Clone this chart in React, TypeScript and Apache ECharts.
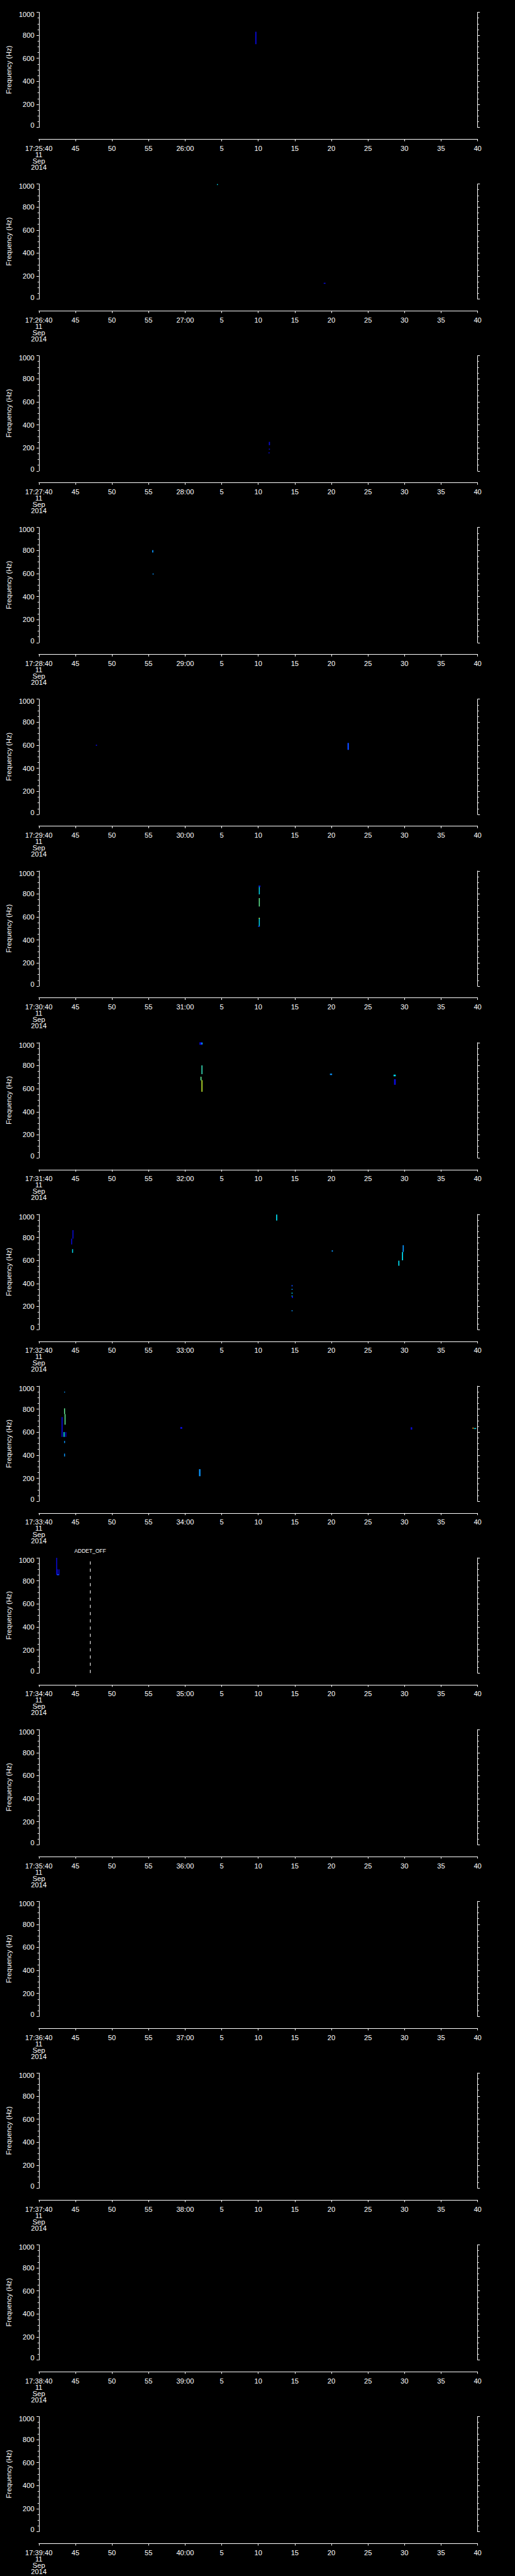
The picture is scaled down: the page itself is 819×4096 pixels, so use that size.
import React, { useEffect, useRef } from "react";
import * as echarts from "echarts";

// ---- data ----
const PANEL_START_SECONDS = 17 * 3600 + 25 * 60 + 40; // 17:25:40
const PANEL_COUNT = 15;
const DATE_LINES = ["11", "Sep", "2014"];
const FREQ_TICKS = [0, 200, 400, 600, 800, 1000];
const Y_TITLE = "Frequency (Hz)";

// colour keys of the spectrogram palette
const COLORS: Record<string, string> = {
  blue: "#0a0adc",
  royal: "#0a46ff",
  dodger: "#0a96ff",
  cyan: "#00dcf0",
  aqua: "#3cf0c8",
  green: "#64f096",
  yellow: "#d2ff32",
  orange: "#ffa01e",
};

// events: [tStart(s after panel start), tEnd, fLow(Hz), fHigh(Hz), colour]
const panel01 = [[29.6, 29.75, 723, 830, "blue"]];
const panel02 = [
  [24.35, 24.45, 994, 999, "cyan"],
  [38.95, 39.2, 136, 142, "blue"],
];
const panel03 = [
  [31.45, 31.6, 223, 252, "blue"],
  [31.45, 31.6, 186, 193, "blue"],
  [31.4, 31.55, 153, 161, "blue"],
];
const panel04 = [
  [15.5, 15.65, 782, 803, "dodger"],
  [15.55, 15.7, 594, 600, "dodger"],
];
const panel05 = [
  [7.8, 7.95, 595, 605, "blue"],
  [42.2, 42.4, 560, 620, "royal"],
];
const panel06 = [
  [30.08, 30.2, 796, 873, "cyan"],
  [30.08, 30.3, 860, 873, "blue"],
  [30.08, 30.2, 691, 764, "green"],
  [30.08, 30.2, 517, 592, "cyan"],
  [30.08, 30.16, 585, 592, "yellow"],
  [29.98, 30.2, 517, 524, "royal"],
];
const panel07 = [
  [21.96, 22.37, 981, 1003, "blue"],
  [22.25, 22.37, 985, 1000, "cyan"],
  [22.24, 22.36, 726, 803, "aqua"],
  [22.1, 22.24, 672, 704, "green"],
  [22.24, 22.36, 573, 675, "yellow"],
  [39.8, 40.1, 719, 731, "dodger"],
  [48.5, 48.8, 708, 722, "cyan"],
  [48.57, 48.8, 634, 683, "blue"],
];
const panel08 = [
  [4.6, 4.72, 790, 863, "blue"],
  [4.42, 4.55, 739, 790, "blue"],
  [4.55, 4.68, 666, 698, "cyan"],
  [32.45, 32.6, 946, 998, "cyan"],
  [34.55, 34.7, 375, 386, "royal"],
  [34.55, 34.7, 345, 353, "dodger"],
  [34.55, 34.7, 313, 320, "cyan"],
  [34.55, 34.7, 288, 295, "cyan"],
  [34.6, 34.75, 274, 288, "blue"],
  [34.55, 34.7, 160, 167, "dodger"],
  [40.05, 40.2, 676, 688, "dodger"],
  [49.15, 49.3, 554, 598, "cyan"],
  [49.65, 49.8, 601, 674, "cyan"],
  [49.75, 49.9, 674, 732, "dodger"],
];
const panel09 = [
  [3.45, 3.55, 945, 952, "dodger"],
  [3.45, 3.55, 757, 807, "green"],
  [3.52, 3.62, 665, 757, "green"],
  [3.1, 3.25, 559, 731, "blue"],
  [3.37, 3.52, 559, 601, "cyan"],
  [3.62, 3.75, 559, 601, "blue"],
  [3.45, 3.57, 506, 524, "dodger"],
  [3.45, 3.57, 389, 414, "dodger"],
  [19.35, 19.6, 629, 645, "blue"],
  [21.9, 22.1, 218, 279, "dodger"],
  [50.85, 51.05, 622, 643, "blue"],
  [59.3, 59.45, 630, 640, "orange"],
  [59.5, 59.8, 628, 636, "cyan"],
];
const panel10 = [
  [2.38, 2.48, 853, 1000, "blue"],
  [2.45, 2.55, 850, 900, "blue"],
  [2.68, 2.78, 850, 900, "blue"],
  [2.45, 2.78, 850, 858, "blue"],
  [2.55, 2.65, 852, 858, "dodger"],
];
const panel11: any[] = [];
const panel12: any[] = [];
const panel13: any[] = [];
const panel14: any[] = [];
const panel15: any[] = [];
const PANEL_EVENTS = [
  panel01, panel02, panel03, panel04, panel05, panel06, panel07, panel08,
  panel09, panel10, panel11, panel12, panel13, panel14, panel15,
];

// vertical event markers: [panel index (0-based), seconds after panel start, label]
const MARKERS: [number, number, string][] = [[9, 7.02, "ADDET_OFF"]];

// ---- layout (0.8 of the reference) ----
const W = 819;
const H = 4096;
const PH = H / PANEL_COUNT;
const GRID_LEFT = 60.2;
const GRID_WIDTH = 699.4;
const GRID_TOP = 19.45;
const GRID_HEIGHT = 183.2;
const FONT = "'Liberation Sans', Arial, sans-serif";
const FS = 11.2;

const pad2 = (n: number) => (n < 10 ? "0" + n : String(n));

function buildOption() {
  const grids: any[] = [];
  const xAxes: any[] = [];
  const yAxes: any[] = [];
  const series: any[] = [];

  for (let k = 0; k < PANEL_COUNT; k++) {
    const start = PANEL_START_SECONDS + k * 60;
    grids.push({
      left: GRID_LEFT,
      width: GRID_WIDTH,
      top: k * PH + GRID_TOP,
      height: GRID_HEIGHT,
      containLabel: false,
    });
    xAxes.push({
      type: "value",
      gridIndex: k,
      min: 0,
      max: 60,
      interval: 5,
      offset: 18.7,
      axisLine: { show: true, onZero: false, lineStyle: { color: "#fff", width: 1 } },
      axisTick: { show: true, length: 3.3, lineStyle: { color: "#fff", width: 1 } },
      splitLine: { show: false },
      axisLabel: {
        color: "#fff",
        fontFamily: FONT,
        fontSize: FS,
        lineHeight: 10,
        margin: 9.5,
        showMinLabel: true,
        showMaxLabel: true,
        formatter: (v: number) => {
          const abs = start + Math.round(v);
          const h = Math.floor(abs / 3600);
          const m = Math.floor((abs % 3600) / 60);
          const s = abs % 60;
          if (Math.round(v) === 0) {
            return `${h}:${pad2(m)}:${pad2(s)}\n${DATE_LINES.join("\n")}`;
          }
          if (s === 0) return `${pad2(m)}:00`;
          return String(s);
        },
      },
    });
    const yCommon = {
      type: "value",
      gridIndex: k,
      min: 0,
      max: 1000,
      interval: 200,
      axisLine: { show: true, onZero: false, lineStyle: { color: "#fff", width: 1 } },
      axisTick: { show: true, length: 3.6, lineStyle: { color: "#fff", width: 1 } },
      minorTick: { show: true, splitNumber: 4, length: 2, lineStyle: { color: "#fff", width: 1 } },
      splitLine: { show: false },
      minorSplitLine: { show: false },
    };
    yAxes.push({
      ...yCommon,
      position: "left",
      name: Y_TITLE,
      nameLocation: "middle",
      nameGap: 36,
      nameTextStyle: { color: "#fff", fontFamily: FONT, fontSize: FS },
      axisLabel: {
        color: "#fff",
        fontFamily: FONT,
        fontSize: FS,
        margin: 7,
        formatter: (v: number) =>
          v === FREQ_TICKS[FREQ_TICKS.length - 1]
            ? `{t|${v}}`
            : v === FREQ_TICKS[0]
            ? `{b|${v}}`
            : String(v),
        rich: {
          t: { color: "#fff", fontFamily: FONT, fontSize: FS, padding: [7.5, 0, 0, 0] },
          b: { color: "#fff", fontFamily: FONT, fontSize: FS, padding: [0, 0, 6.4, 0] },
        },
      },
    });
    yAxes.push({
      ...yCommon,
      position: "right",
      axisLabel: { show: false },
    });

    const events = PANEL_EVENTS[k];
    series.push({
      type: "custom",
      xAxisIndex: k,
      yAxisIndex: 2 * k,
      encode: { x: [0, 1], y: [2, 3] },
      data: events.map((e: any[]) => ({
        value: [e[0], e[1], e[2], e[3]],
        itemStyle: { color: COLORS[e[4]] },
      })),
      renderItem: (params: any, api: any) => {
        const p0 = api.coord([api.value(0), api.value(3)]);
        const p1 = api.coord([api.value(1), api.value(2)]);
        const w = Math.max(p1[0] - p0[0], 1.5);
        const h = Math.max(p1[1] - p0[1], 1.5);
        return {
          type: "rect",
          shape: { x: p0[0], y: p0[1], width: w, height: h },
          style: { fill: api.visual("color") },
        };
      },
    });

    const ms = MARKERS.filter((m) => m[0] === k);
    if (ms.length) {
      series.push({
        type: "line",
        xAxisIndex: k,
        yAxisIndex: 2 * k,
        data: [],
        markLine: {
          silent: true,
          symbol: ["none", "none"],
          lineStyle: { color: "#fff", width: 1, type: [5, 6.5] },
          label: {
            show: true,
            position: "end",
            distance: 7,
            color: "#fff",
            fontFamily: FONT,
            fontSize: 8.5,
            formatter: (p: any) => p.name,
          },
          data: ms.map((m) => ({ xAxis: m[1], name: m[2] })),
        },
      });
    }
  }

  return {
    animation: false,
    backgroundColor: "#000",
    grid: grids,
    xAxis: xAxes,
    yAxis: yAxes,
    series,
  };
}

export default function App() {
  const ref = useRef<HTMLDivElement>(null);
  useEffect(() => {
    document.body.style.margin = "0";
    document.body.style.background = "#000";
    const chart = echarts.init(ref.current!, undefined, { renderer: "svg" });
    chart.setOption(buildOption() as any);
    return () => chart.dispose();
  }, []);
  return (
    <div
      ref={ref}
      style={{ position: "absolute", left: 0, top: 0, width: W, height: H }}
    />
  );
}
